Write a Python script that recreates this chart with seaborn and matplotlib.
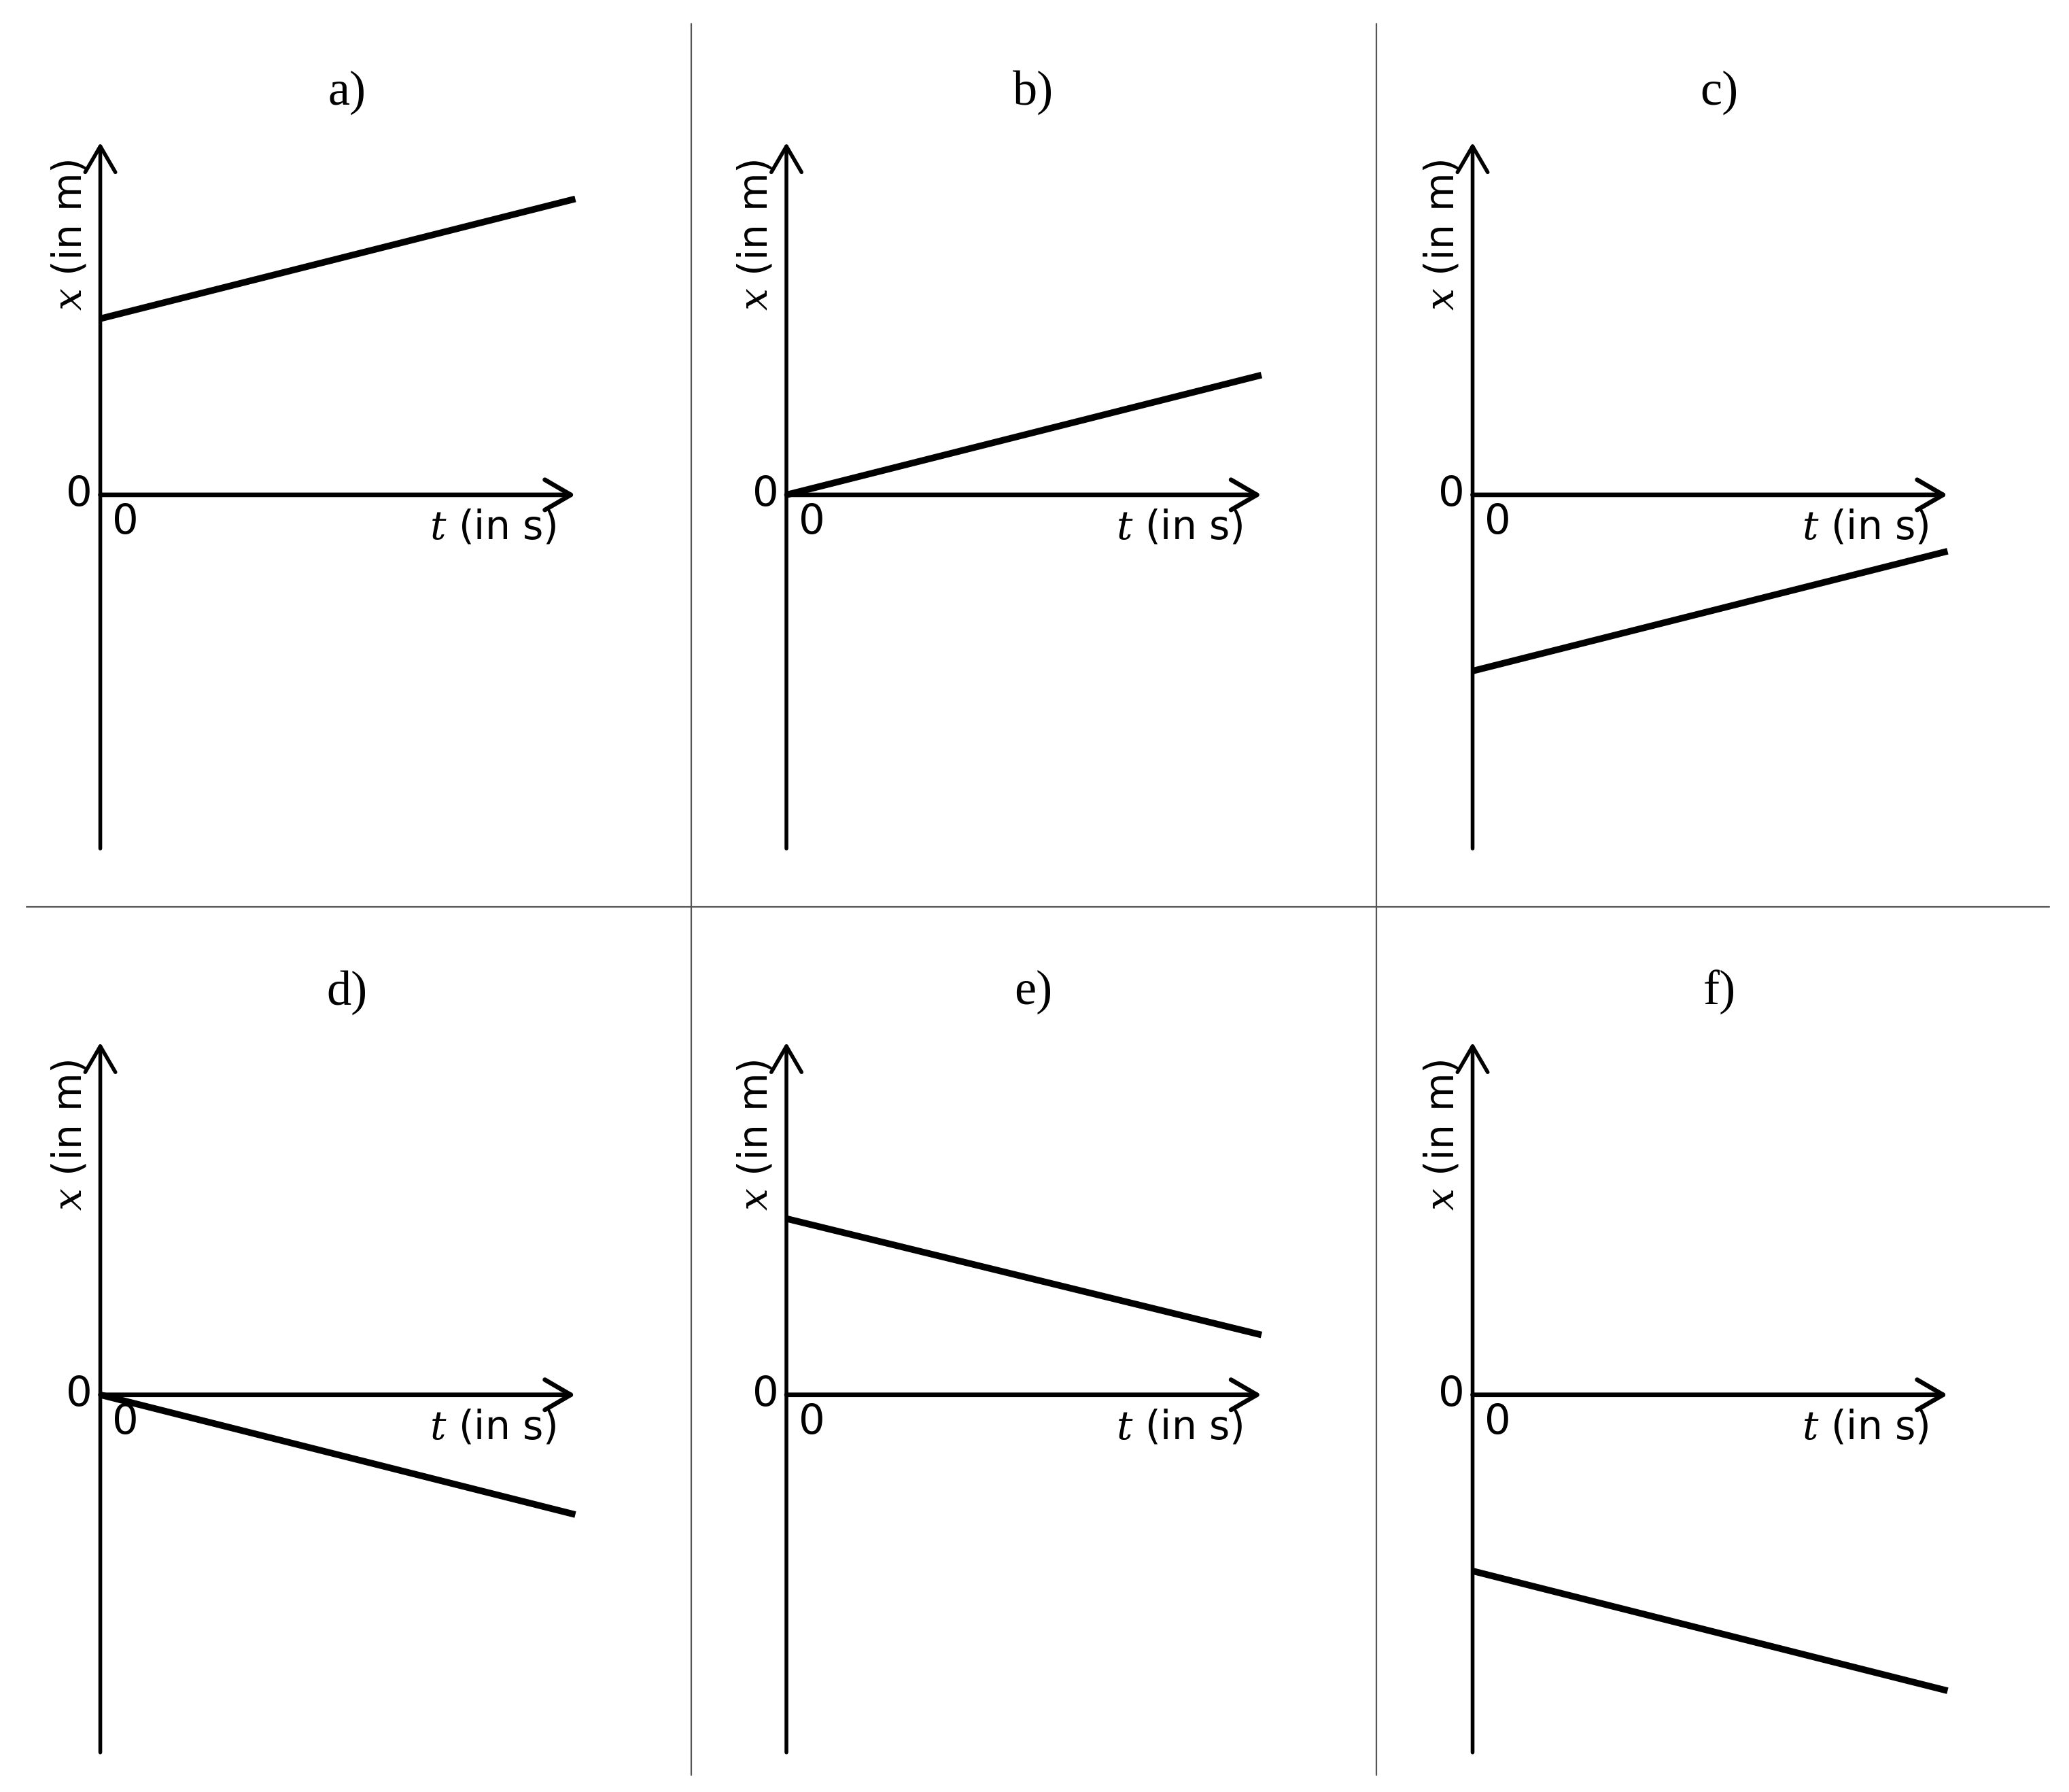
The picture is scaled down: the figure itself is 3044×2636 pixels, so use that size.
import matplotlib
matplotlib.use("Agg")
import matplotlib.pyplot as plt
from matplotlib.lines import Line2D
import seaborn as sns
import pandas as pd

# ---- data ----
panel_labels = ["a)", "b)", "c)", "d)", "e)", "f)"]
t_points = [0, 10]
x_start = [5.0, 0.0, -5.0, 0.0, 5.0, -5.0]
x_end = [8.4, 3.4, -1.6, -3.4, 1.7, -8.4]
x_axis_label = r"$x$ (in m)"
t_axis_label = r"$t$ (in s)"
zero_label = "0"

sns.set_theme(style="white")
plt.rcParams["font.family"] = ["DejaVu Sans"]
plt.rcParams["mathtext.fontset"] = "dejavuserif"

W, H = 3044, 2636
DPI = 100
fig = plt.figure(figsize=(W / DPI, H / DPI), dpi=DPI)
fig.patch.set_facecolor("white")

SW, SH = 1568.0, 1358.0  # reference-preview coordinate frame
cols = [76, 596, 1116]
rows = [(108, 375, 643), (790, 1057, 1328)]
panel_w = 360

FS = 40
for i, lab in enumerate(panel_labels):
    r, c = divmod(i, 3)
    top, zero, bot = rows[r]
    left = cols[c]
    ax = fig.add_axes([left / SW, 1 - bot / SH, panel_w / SW, (bot - top) / SH])
    unit = (zero - top) / 10.0
    ymin = -(bot - zero) / unit
    ax.set_xlim(0, 10)
    ax.set_ylim(ymin, 10)
    ax.axis("off")

    df = pd.DataFrame({"t": t_points, "x": [x_start[i], x_end[i]]})
    sns.lineplot(data=df, x="t", y="x", ax=ax, color="black", linewidth=7.0,
                 solid_capstyle="butt", clip_on=False, zorder=3)

    arrow_kw = dict(arrowstyle="->,head_length=0.55,head_width=0.32",
                    color="black", shrinkA=0, shrinkB=0, mutation_scale=50)
    ax.annotate("", xy=(0, 10), xytext=(0, ymin),
                arrowprops=dict(lw=4.0, **arrow_kw), annotation_clip=False)
    ax.annotate("", xy=(10, 0), xytext=(0, 0),
                arrowprops=dict(lw=4.8, **arrow_kw), annotation_clip=False)

    ax.text(-6 * 10 / panel_w, 0, zero_label, ha="right", va="center",
            fontsize=FS + 4, color="black")
    ax.text((95 - 76) * 10 / panel_w, -(396 - 375) / unit, zero_label,
            ha="center", va="center", fontsize=FS + 4, color="black")
    ax.text((422 - 76) * 10 / panel_w, -(400 - 375) / unit, t_axis_label,
            ha="right", va="center", fontsize=FS + 2, color="black")
    ax.text(-(76 - 53) * 10 / panel_w, (375 - 178) / unit, x_axis_label,
            ha="center", va="center", rotation=90, fontsize=FS + 2, color="black")
    ax.text((263 - 76) * 10 / panel_w, (375 - 70) / unit, lab,
            ha="center", va="center", fontsize=52, family="Liberation Serif",
            color="black")

# separator lines of the 2x3 grid
sep = dict(color="#555555", linewidth=1.6)
for vx in (524, 1043):
    fig.add_artist(Line2D([vx / SW, vx / SW], [1 - 18 / SH, 1 - 1345 / SH],
                          transform=fig.transFigure, **sep))
fig.add_artist(Line2D([20 / SW, 1553 / SW], [1 - 687 / SH, 1 - 687 / SH],
                      transform=fig.transFigure, **sep))

fig.savefig("out.png", dpi=DPI, facecolor="white")
